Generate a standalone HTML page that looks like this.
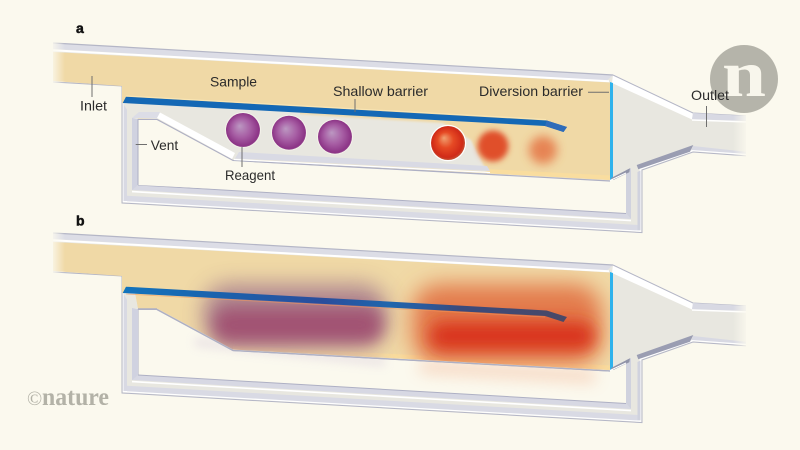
<!DOCTYPE html>
<html><head><meta charset="utf-8"><style>
html,body{margin:0;padding:0;background:#fbf9ee;width:800px;height:450px;overflow:hidden}
svg{display:block}
.l{font-family:"Liberation Sans",sans-serif;font-size:14px;fill:#2b2b2b}
</style></head><body>
<svg width="800" height="450" viewBox="0 0 800 450" xmlns="http://www.w3.org/2000/svg">
<defs>
<filter id="b1" x="-30%" y="-30%" width="160%" height="160%"><feGaussianBlur stdDeviation="1"/></filter>
<filter id="b3" x="-50%" y="-50%" width="200%" height="200%"><feGaussianBlur stdDeviation="3"/></filter>
<filter id="b5" x="-50%" y="-50%" width="200%" height="200%"><feGaussianBlur stdDeviation="5"/></filter>
<filter id="b8" x="-50%" y="-100%" width="200%" height="300%"><feGaussianBlur stdDeviation="8"/></filter>
<filter id="b12" x="-50%" y="-100%" width="200%" height="300%"><feGaussianBlur stdDeviation="11"/></filter>
<radialGradient id="pur" cx=".5" cy=".5" r=".55" fx=".4" fy=".38">
<stop offset="0" stop-color="#bc98c2"/><stop offset=".5" stop-color="#a75ea4"/><stop offset=".88" stop-color="#8c3486"/><stop offset="1" stop-color="#a87aa6"/></radialGradient>
<radialGradient id="red" cx=".5" cy=".5" r=".55" fx=".38" fy=".35">
<stop offset="0" stop-color="#f0a070"/><stop offset=".42" stop-color="#e64a24"/><stop offset=".82" stop-color="#d02a18"/><stop offset="1" stop-color="#bc6a44"/></radialGradient>
<linearGradient id="fadeL" x1="0" x2="1" y1="0" y2="0"><stop offset="0" stop-color="#fbf9ee"/><stop offset="1" stop-color="#fbf9ee" stop-opacity="0"/></linearGradient>
<linearGradient id="fadeR" x1="0" x2="1" y1="0" y2="0"><stop offset="0" stop-color="#fbf9ee" stop-opacity="0"/><stop offset="1" stop-color="#fbf9ee"/></linearGradient>
<linearGradient id="barB" gradientUnits="userSpaceOnUse" x1="123" x2="566" y1="0" y2="0">
<stop offset="0" stop-color="#1274bd"/><stop offset=".2" stop-color="#1a63ae"/><stop offset=".45" stop-color="#2a4d9c"/><stop offset=".6" stop-color="#1f66ad"/><stop offset=".68" stop-color="#2c5a9c"/><stop offset=".76" stop-color="#3a4a7c"/><stop offset="1" stop-color="#4b4966"/></linearGradient>
<g id="back">
<polygon points="53,43 613,75 693,113 748,116 748,156 693,152 642,170 642,232.6 122,203 122,86 53,82" fill="#e8e7e0"/>
<polyline points="53,80.5 123.5,84.5 123.5,201.5 640.5,231 640.5,169 693,150.5 748,154.5" fill="none" stroke="#fff" stroke-width="1.6"/>
<polyline points="53,82 122,86 122,203 642,232.6 642,170 693,152 748,156" fill="none" stroke="#b4b6c6" stroke-width="1"/>
<polygon points="53,43 613,75 607,80.5 53,49" fill="#dcdde6"/>
<polyline points="53,43 613,75" stroke="#b4b6c6" stroke-width="1.2" fill="none"/>
<polyline points="53,50.3 609,81.3" stroke="#fff" stroke-width="2" fill="none"/>
<polygon points="613,75 693,113 692,119.5 612,83" fill="#fff"/>
<polyline points="613,75 693,113 748,116" stroke="#b4b6c6" stroke-width="1" fill="none"/>
<polygon points="693,113 748,116 748,121 692,119.3" fill="#d8d9e3"/>
<polyline points="692,120 748,122" stroke="#fff" stroke-width="1.4" fill="none"/>
<polygon points="693,146 748,152 748,154 691.5,150" fill="#d8d9e3"/>
<polygon points="123.5,104 127,104 127,201 123.5,201" fill="#d8d9e3"/>
<polygon points="127,195.8 637.5,224.9 637.5,230.4 127,201.3" fill="#d9dae4"/>
<polygon points="637.5,172 640.5,170.5 640.5,230.4 637.5,230.4" fill="#d0d2de"/>
<polygon points="626,170 631,168 631,219 626,213.5" fill="#d0d2de"/>
<polyline points="132,191.6 631,220.6" stroke="#fff" stroke-width="1.6" fill="none"/>
<polygon points="132,190 631,219 626,213.5 138,185" fill="#d7d8e3"/>
<polygon points="132,118 138,119.5 138,185 132,190" fill="#d0d2e0"/>
<polygon points="132,118 139,112 160,112 157,118.5" fill="#dcdde6"/>
<polygon points="138,119.5 157,119.5 233,160.5 610,181 626,173 626,213.5 138,185" fill="#fbf9ee"/>
<polyline points="138,185 138,119.5 157,119.5" stroke="#aeb0c4" stroke-width="1" fill="none"/>
<polyline points="138,185 626,213.5" stroke="#aeb0c4" stroke-width="1" fill="none"/>
<polyline points="157,119.5 233,160.5 610,181" stroke="#aeb0c4" stroke-width="1.2" fill="none"/>
<polygon points="53,52 610,82.5 610,180 233,159.5 158,119 138,119 135,103 122,103 122,86 53,81" fill="#f0d9a6"/>
<polygon points="233,155.5 610,175.5 610,180 233,159.5" fill="#f9dd9f"/>
</g>
<g id="front">
<polygon points="610,82 613,83 613,179 610,180.5" fill="#2fb2ec"/>
<polygon points="610.7,178.3 630,168.3 629.3,172.3 613.3,180" fill="#9093a8"/>
<polygon points="636.7,165 693.3,145 690,151.7 638.3,169.3" fill="#9a9db2"/>
<polyline points="610,180.5 626,173" stroke="#fff" stroke-width="1" fill="none"/>
<rect x="50" y="40" width="15" height="46" fill="url(#fadeL)"/>
<rect x="733" y="112" width="16" height="46" fill="url(#fadeR)"/>
<rect x="746" y="112" width="10" height="46" fill="#fbf9ee"/>
</g>
<clipPath id="chanB"><polygon points="53,242 610,272.5 610,370 233,349.5 158,309 138,309 135,293 122,293 122,276 53,271"/></clipPath>
</defs>
<rect width="800" height="450" fill="#fbf9ee"/>

<!-- PANEL A -->
<use href="#back"/>
<polygon points="123,103 443,123 471,140 487,172 233,159.5 158,118.5 132,118 132,112" fill="#e8e7e0" filter="url(#b1)"/>
<polygon points="123,103 300,112 300,160 233,159.5 158,119 132,118" fill="#e8e7e0"/>
<polygon points="132,118 139,112 160,112 157,118.5" fill="#dcdde6"/>
<polygon points="132,118 138,119.5 138,185 132,190" fill="#d0d2e0"/>
<polygon points="138,119.5 157,119.5 233,160.5 240,160 240,190 138,185" fill="#fbf9ee"/>
<polyline points="138,185 138,119.5 157,119.5" stroke="#aeb0c4" stroke-width="1" fill="none"/>
<polyline points="157,119.5 233,160.5 487,174" stroke="#aeb0c4" stroke-width="1" fill="none"/>
<polygon points="160,112.5 235,153 232,159 157,118" fill="#fff"/>
<polygon points="239,152 487,166 490,171 235,158.5" fill="#d9dae4"/>
<polyline points="234,159.5 490,172.5" stroke="#fff" stroke-width="1.3" fill="none"/>
<polygon points="126,96.7 546.7,120.5 567,127 563.5,132 545,126 122.7,103" fill="#1468b5"/>
<polygon points="546.7,120.5 567,127 563.5,132 545,126" fill="#2f6cb9"/>
<polyline points="126,96 546,119.5" stroke="#fae6b4" stroke-width="1" fill="none"/>
<circle cx="243" cy="130" r="18" fill="#f4f2ea"/>
<circle cx="289" cy="132.7" r="18" fill="#f4f2ea"/>
<circle cx="335" cy="136.7" r="18" fill="#f4f2ea"/>
<circle cx="243" cy="130" r="17" fill="url(#pur)"/>
<circle cx="289" cy="132.7" r="17" fill="url(#pur)"/>
<circle cx="335" cy="136.7" r="17" fill="url(#pur)"/>
<circle cx="448" cy="143" r="18.2" fill="#fff"/>
<circle cx="448" cy="143" r="17" fill="url(#red)"/>
<circle cx="493" cy="146" r="15.5" fill="#e05029" filter="url(#b3)"/>
<circle cx="543" cy="150" r="14" fill="#e4703f" opacity=".8" filter="url(#b5)"/>
<use href="#front"/>

<!-- PANEL B -->
<g transform="translate(0,190)"><use href="#back"/></g>
<polygon points="123,293 135,293 138,309 132,308" fill="#e8e7e0"/>
<polygon points="132,308 138,309.5 138,375 132,380" fill="#d0d2e0"/>
<polyline points="138,309 157,309" stroke="#aeb0c4" stroke-width="1.4" fill="none"/>
<polygon points="195,338 385,358 385,366 195,346" fill="#b49ac6" opacity=".25" filter="url(#b5)"/>
<polygon points="420,361 595,371 595,382 420,372" fill="#f0a078" opacity=".45" filter="url(#b8)"/>
<polyline points="157,309.5 233,350.5 610,371" stroke="#aeb0c4" stroke-width="1.3" fill="none"/>
<g clip-path="url(#chanB)">
<rect x="203" y="284" width="184" height="62" rx="26" fill="#a87f8e" opacity=".9" filter="url(#b12)"/>
<rect x="214" y="308" width="168" height="34" rx="14" fill="#a04e70" opacity=".9" filter="url(#b8)"/>
<rect x="412" y="284" width="190" height="80" rx="28" fill="#e37a4c" filter="url(#b12)"/>
<rect x="430" y="322" width="164" height="28" rx="12" fill="#d9341a" filter="url(#b8)"/>
</g>
<polygon points="126,286.7 546.7,310.5 567,317 563.5,322 545,316 122.7,293" fill="url(#barB)"/>
<polyline points="126,294 545,317" stroke="#f39a5c" stroke-width=".8" opacity=".6" fill="none"/>
<g transform="translate(0,190)"><use href="#front"/></g>

<g stroke="#6f6f6f" stroke-width="1" fill="none">
<line x1="92" y1="76" x2="92" y2="97"/>
<line x1="135.7" y1="144.5" x2="147" y2="144.5"/>
<line x1="242" y1="147" x2="242" y2="167"/>
<line x1="355" y1="99" x2="355" y2="112"/>
<line x1="588" y1="92.3" x2="609" y2="92.3"/>
<line x1="706.5" y1="106" x2="706.5" y2="127"/>
</g>

<circle cx="744" cy="79" r="34" fill="#b5b4aa"/>
<text x="722" y="96" font-family="'Liberation Serif',serif" font-weight="bold" font-size="66" fill="#f8f6ec" textLength="44" lengthAdjust="spacingAndGlyphs">n</text>

<text class="l" x="210" y="86.7" textLength="47" lengthAdjust="spacingAndGlyphs">Sample</text>
<text class="l" x="80" y="110.7" textLength="27" lengthAdjust="spacingAndGlyphs">Inlet</text>
<text class="l" x="150.7" y="150" textLength="27.5" lengthAdjust="spacingAndGlyphs">Vent</text>
<text class="l" x="225" y="180" textLength="50" lengthAdjust="spacingAndGlyphs">Reagent</text>
<text class="l" x="333" y="96" textLength="95" lengthAdjust="spacingAndGlyphs">Shallow barrier</text>
<text class="l" x="479" y="96" textLength="104" lengthAdjust="spacingAndGlyphs">Diversion barrier</text>
<text class="l" x="691" y="100" textLength="38" lengthAdjust="spacingAndGlyphs">Outlet</text>
<text x="76" y="33" font-family="'Liberation Sans',sans-serif" font-weight="bold" font-size="14" fill="#111" stroke="#111" stroke-width=".5">a</text>
<text x="76" y="225.7" font-family="'Liberation Sans',sans-serif" font-weight="bold" font-size="14" fill="#111" stroke="#111" stroke-width=".5">b</text>
<text x="27" y="405" font-family="'Liberation Serif',serif" font-size="20" fill="#b3b2a7">©</text>
<text x="42" y="405" font-family="'Liberation Serif',serif" font-weight="bold" font-size="25" fill="#b3b2a7" textLength="67" lengthAdjust="spacingAndGlyphs">nature</text>
</svg>
</body></html>
